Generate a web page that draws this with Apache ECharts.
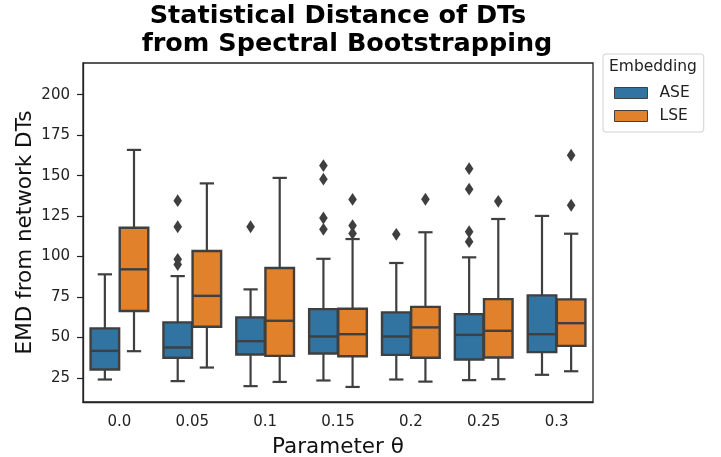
<!DOCTYPE html>
<html>
<head>
<meta charset="utf-8">
<script src="https://cdn.jsdelivr.net/npm/echarts@6/dist/echarts.min.js"></script>
<style>
  html, body { margin: 0; padding: 0; background: #fff; }
  #chart { width: 721px; height: 457px; }
</style>
</head>
<body>
<div id="chart"></div>
<script>
// categories (parameter theta)
var categories = ['0.0', '0.05', '0.1', '0.15', '0.2', '0.25', '0.3'];
var yTicks = [25, 50, 75, 100, 125, 150, 175, 200];

// box stats: [lower whisker, Q1, median, Q3, upper whisker]
var aseBoxes = [
    [24, 30.2, 41.7, 55.6, 89],
    [23, 37.4, 43.8, 59.3, 87.9],
    [19.9, 39.5, 47.7, 62.4, 79.7],
    [23.4, 40.1, 50.6, 67.5, 98.6],
    [24, 39.2, 50.6, 65.5, 96],
    [23.6, 36.4, 51.6, 64.4, 99.5],
    [26.9, 40.9, 52, 76, 125.1]
];
var lseBoxes = [
    [41.5, 66.3, 92.1, 117.8, 165.9],
    [31.4, 56.6, 75.7, 103.4, 145.2],
    [22.5, 38.6, 60.3, 92.9, 148.6],
    [19.4, 38.4, 52, 67.7, 110.8],
    [22.7, 37.4, 56.2, 68.9, 115],
    [24.2, 37.6, 54.1, 73.7, 123.2],
    [29.1, 44.8, 58.8, 73.5, 114.1]
];

// outliers: [category index, value]
var aseOutliers = [
    [1, 134.5], [1, 118.4], [1, 98.3], [1, 95],
    [2, 118.4],
    [3, 156.2], [3, 147.8], [3, 123.8], [3, 116.8],
    [4, 113.7],
    [5, 154.3], [5, 141.6], [5, 115.3], [5, 109.2]
];
var lseOutliers = [
    [3, 135.3], [3, 119.1], [3, 114.3],
    [4, 135.4],
    [5, 134.1],
    [6, 162.6], [6, 131.7]
];

var FONT = 'DejaVu Sans';
var LINE = '#3f3f3f';
var BLUE = '#3274a1';
var ORANGE = '#e1812c';

// 画箱线图（偏移量按类别宽度计算）
function boxRenderer(offset, fill) {
    return function (params, api) {
        var cat = api.value(0);
        var band = api.size([1, 0])[0];
        var cx = api.coord([cat, api.value(3)])[0] + offset * band;
        var half = band * 0.196;
        var capHalf = band * 0.098;
        var yLow = api.coord([cat, api.value(1)])[1];
        var yQ1 = api.coord([cat, api.value(2)])[1];
        var yMed = api.coord([cat, api.value(3)])[1];
        var yQ3 = api.coord([cat, api.value(4)])[1];
        var yHigh = api.coord([cat, api.value(5)])[1];
        var lineStyle = { stroke: LINE, lineWidth: 2.2 };
        return {
            type: 'group',
            children: [
                { type: 'line', shape: { x1: cx, y1: yQ3, x2: cx, y2: yHigh }, style: lineStyle },
                { type: 'line', shape: { x1: cx, y1: yQ1, x2: cx, y2: yLow }, style: lineStyle },
                { type: 'line', shape: { x1: cx - capHalf, y1: yHigh, x2: cx + capHalf, y2: yHigh }, style: lineStyle },
                { type: 'line', shape: { x1: cx - capHalf, y1: yLow, x2: cx + capHalf, y2: yLow }, style: lineStyle },
                { type: 'rect', shape: { x: cx - half, y: yQ3, width: half * 2, height: yQ1 - yQ3 },
                  style: { fill: fill, stroke: LINE, lineWidth: 2.4 } },
                { type: 'line', shape: { x1: cx - half, y1: yMed, x2: cx + half, y2: yMed },
                  style: { stroke: LINE, lineWidth: 2.4 } }
            ]
        };
    };
}

// 离群点：菱形
function outlierRenderer(offset) {
    return function (params, api) {
        var cat = api.value(0);
        var band = api.size([1, 0])[0];
        var p = api.coord([cat, api.value(1)]);
        var x = p[0] + offset * band, y = p[1];
        var w = 4.3, h = 6.4;
        return {
            type: 'polygon',
            shape: { points: [[x, y - h], [x + w, y], [x, y + h], [x - w, y]] },
            style: { fill: LINE }
        };
    };
}

var chart = echarts.init(document.getElementById('chart'), null, { renderer: 'canvas' });

var option = {
    animation: false,
    backgroundColor: '#fff',
    textStyle: { fontFamily: FONT },
    graphic: [
        { type: 'text', x: 338, y: 3,
          style: { text: 'Statistical Distance of DTs', font: 'bold 25.5px "DejaVu Sans"', fill: '#000', textAlign: 'center' } },
        { type: 'text', x: 347, y: 31,
          style: { text: 'from Spectral Bootstrapping', font: 'bold 25.5px "DejaVu Sans"', fill: '#000', textAlign: 'center' } },
        { type: 'text', x: 609, y: 59,
          style: { text: 'Embedding', font: '15.5px "DejaVu Sans"', fill: '#222' } }
    ],
    legend: {
        orient: 'vertical',
        left: 603,
        top: 54,
        padding: [31, 14, 8, 11],
        borderColor: '#d0d0d0',
        borderWidth: 1,
        borderRadius: 3,
        itemWidth: 33,
        itemHeight: 11,
        itemGap: 7,
        icon: 'rect',
        textStyle: { fontFamily: FONT, fontSize: 15.5, color: '#222', padding: [0, 0, 0, 7] },
        data: [
            { name: 'ASE', itemStyle: { color: BLUE, borderColor: LINE, borderWidth: 1 } },
            { name: 'LSE', itemStyle: { color: ORANGE, borderColor: LINE, borderWidth: 1 } }
        ]
    },
    grid: {
        left: 83, right: 128, top: 63, bottom: 55,
        outerBoundsMode: 'none',
        containLabel: false,
        show: true, borderColor: '#222', borderWidth: 1.3, backgroundColor: 'transparent'
    },
    xAxis: {
        type: 'category',
        data: categories,
        name: 'Parameter θ',
        nameLocation: 'middle',
        nameGap: 34,
        nameMoveOverlap: false,
        nameTextStyle: { fontFamily: FONT, fontSize: 21.5, color: '#111' },
        axisLine: { lineStyle: { color: '#222', width: 1.3 } },
        axisTick: { alignWithLabel: true, length: 6, lineStyle: { color: '#222', width: 1.2 } },
        axisLabel: { fontFamily: FONT, fontSize: 15, color: '#222', margin: 13 },
        splitLine: { show: false }
    },
    yAxis: {
        type: 'value',
        min: 10.1,
        max: 219.6,
        name: 'EMD from network DTs',
        nameLocation: 'middle',
        nameGap: 47,
        nameMoveOverlap: false,
        nameTextStyle: { fontFamily: FONT, fontSize: 21.5, color: '#111' },
        axisLine: { show: true, lineStyle: { color: '#222', width: 1.3 } },
        axisTick: { show: true, length: 6, customValues: yTicks, lineStyle: { color: '#222', width: 1.2 } },
        axisLabel: { fontFamily: FONT, fontSize: 15, color: '#222', margin: 13, customValues: yTicks },
        splitLine: { show: false }
    },
    series: [
        {
            name: 'ASE', type: 'custom',
            itemStyle: { color: BLUE },
            renderItem: boxRenderer(-0.2, BLUE),
            encode: { x: 0, y: [1, 2, 3, 4, 5] },
            data: aseBoxes.map(function (b, i) { return [i].concat(b); }),
            z: 2
        },
        {
            name: 'LSE', type: 'custom',
            itemStyle: { color: ORANGE },
            renderItem: boxRenderer(0.2, ORANGE),
            encode: { x: 0, y: [1, 2, 3, 4, 5] },
            data: lseBoxes.map(function (b, i) { return [i].concat(b); }),
            z: 2
        },
        {
            name: 'ASE outliers', type: 'custom',
            renderItem: outlierRenderer(-0.2),
            encode: { x: 0, y: 1 },
            data: aseOutliers,
            z: 3
        },
        {
            name: 'LSE outliers', type: 'custom',
            renderItem: outlierRenderer(0.2),
            encode: { x: 0, y: 1 },
            data: lseOutliers,
            z: 3
        }
    ]
};

chart.setOption(option);
</script>
</body>
</html>
